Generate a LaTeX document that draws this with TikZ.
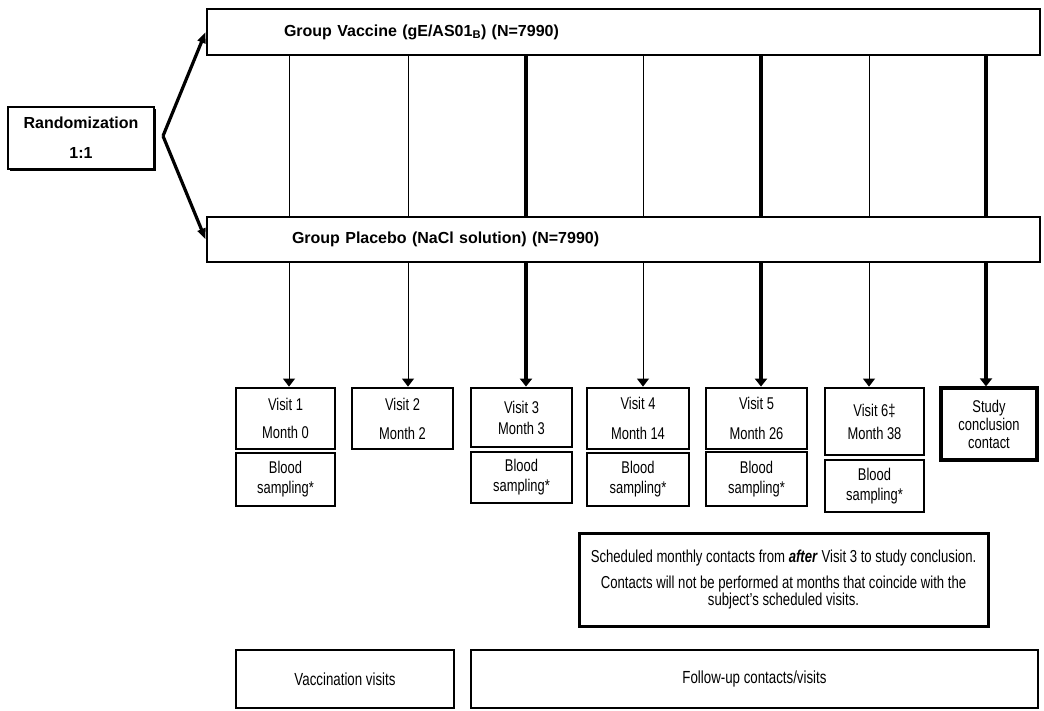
\documentclass[tikz,border=0pt]{standalone}
\usepackage{fontspec}
\setmainfont{Liberation Sans}[FakeStretch=0.76]
\newfontfamily\headfont{Liberation Sans}
\usetikzlibrary{arrows.meta,shadows}

\begin{document}
\begin{tikzpicture}[x=1pt,y=-1pt,
  box/.style={draw,fill=white,inner sep=0pt,align=center,
    font=\fontsize{17}{20}\selectfont},
  shd/.style={drop shadow={shadow xshift=#1,shadow yshift=-#1,opacity=1,fill=black}},
  shd/.default=1.3pt,
  bar/.style={box,line width=2.8pt,shd=1.2pt,minimum width=833pt,align=left,
    font=\headfont\bfseries\fontsize{16}{19}\selectfont},
  visitbox/.style={box,line width=2.8pt},
  bloodbox/.style={box,line width=2.2pt,shd=1.2pt},
  legendbox/.style={box,line width=1.3pt,shd=0.8pt,font=\fontsize{17.5}{20}\selectfont},
  thinln/.style={line width=0.9pt},
  thickln/.style={line width=3.2pt},
  downtip/.style={-{Triangle[length=8pt,width=12pt]}},
  forktip/.style={-{Triangle[length=11pt,width=8pt]}}
]
\useasboundingbox (0,0) rectangle (1044,710);

% randomization and the two study groups
\node[box,line width=1.8pt,shd=1.5pt,minimum width=146pt,minimum height=62pt,
  font=\headfont\bfseries\fontsize{16}{30}\selectfont] (rand) at (81,138)
  {Randomization\\1:1};
\coordinate (fork) at (163,136);

\node[bar,minimum height=46pt,inner xsep=77pt,text width=679pt] (vac) at (623.5,32)
  {Group Vaccine (gE/AS01\textsubscript{B}) (N=7990)};
\node[bar,minimum height=45pt,inner xsep=85pt,text width=663pt] (plac) at (623.5,239.5)
  {Group Placebo (NaCl solution) (N=7990)};

\draw[thickln,forktip] (fork) -- (vac.west);
\draw[thickln,forktip] (fork) -- (plac.west);

% visit columns
\coordinate (c1) at (289,0);
\coordinate (c2) at (408,0);
\coordinate (c3) at (526,0);
\coordinate (c4) at (643,0);
\coordinate (c5) at (761,0);
\coordinate (c6) at (869,0);
\coordinate (c7) at (986,0);

% visits
\node[visitbox,minimum width=99pt,minimum height=61pt,
  font=\fontsize{17}{28}\selectfont] (v1) at (285.5,418.5) {Visit 1\\Month 0};
\node[bloodbox,minimum width=99pt,minimum height=53pt] (b1) at (285.5,479.5)
  {Blood\\sampling*};

\node[visitbox,minimum width=101pt,minimum height=61pt,
  font=\fontsize{17}{29}\selectfont] (v2) at (402.5,418.5) {Visit 2\\Month 2};

\node[visitbox,minimum width=101pt,minimum height=59pt,
  font=\fontsize{17}{21}\selectfont] (v3) at (521.5,417.5) {Visit 3\\Month 3};
\node[bloodbox,minimum width=101pt,minimum height=51pt] (b3) at (521.5,477.5)
  {Blood\\sampling*};

\node[visitbox,minimum width=102pt,minimum height=61pt,
  font=\fontsize{17}{30}\selectfont] (v4) at (638,418.5) {Visit 4\\Month 14};
\node[bloodbox,minimum width=102pt,minimum height=53pt] (b4) at (638,479.5)
  {Blood\\sampling*};

\node[visitbox,minimum width=101pt,minimum height=61pt,
  font=\fontsize{17}{30}\selectfont] (v5) at (756.5,418.5) {Visit 5\\Month 26};
\node[bloodbox,minimum width=101pt,minimum height=54pt] (b5) at (756.5,479)
  {Blood\\sampling*};

\node[visitbox,minimum width=99pt,minimum height=67pt,
  font=\fontsize{17}{23}\selectfont] (v6) at (874.5,421.5) {Visit 6‡\\Month 38};
\node[bloodbox,line width=1.8pt,minimum width=99pt,minimum height=52pt] (b6) at (874.5,486)
  {Blood\\sampling*};

\node[visitbox,line width=3.2pt,minimum width=96pt,minimum height=72pt,
  font=\fontsize{17}{18}\selectfont] (sc) at (989,424)
  {Study\\conclusion\\contact};

% lines between the group bars
\foreach \c in {c1,c2,c4,c6}
  \draw[thinln] (\c |- vac.south) -- (\c |- plac.north);
\foreach \c in {c3,c5,c7}
  \draw[thickln] (\c |- vac.south) -- (\c |- plac.north);

% arrows down to the visits
\draw[thinln,downtip] (c1 |- plac.south) -- (c1 |- v1.north);
\draw[thinln,downtip] (c2 |- plac.south) -- (c2 |- v2.north);
\draw[thickln,downtip] (c3 |- plac.south) -- (c3 |- v3.north);
\draw[thinln,downtip] (c4 |- plac.south) -- (c4 |- v4.north);
\draw[thickln,downtip] (c5 |- plac.south) -- (c5 |- v5.north);
\draw[thinln,downtip] (c6 |- plac.south) -- (c6 |- v6.north);
\draw[thickln,downtip] (c7 |- plac.south) -- (c7 |- sc.north);

% monthly contacts note
\node[box,line width=3pt,shd=1pt,minimum width=409pt,minimum height=93pt,
  font=\fontsize{17.3}{17}\selectfont] (note) at (783.5,580)
  {Scheduled monthly contacts from \textbf{\textit{after}} Visit 3 to study conclusion.\\[9pt]
   Contacts will not be performed at months that coincide with the\\
   subject's scheduled visits.};

% legend
\node[legendbox,minimum width=218pt,minimum height=58pt] (vacc) at (345,679)
  {Vaccination visits};
\node[legendbox,minimum width=567pt,minimum height=58pt] (fu) at (754.5,679)
  {Follow-up contacts/visits};

\end{tikzpicture}
\end{document}
